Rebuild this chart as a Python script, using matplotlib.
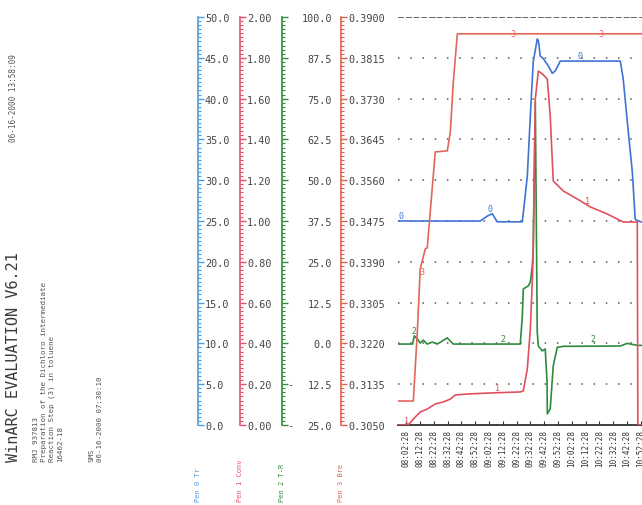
import numpy as np
import matplotlib.pyplot as plt
from matplotlib.ticker import AutoMinorLocator, FixedLocator, FixedFormatter

# time axis, minutes
time_labels = ["08:02:28", "08:12:28", "08:22:28", "08:32:28", "08:42:28", "08:52:28",
               "09:02:28", "09:12:28", "09:22:28", "09:32:28", "09:42:28", "09:52:28",
               "10:02:28", "10:12:28", "10:22:28", "10:32:28", "10:42:28", "10:52:28"]
time_ticks = np.arange(0, 171, 10)

# Pen 0 (Tr, 0..50)
t0 = [-6, 53.6, 58.7, 62.3, 65.9, 84.1, 87.7, 89.9, 92.0, 94.9, 95.7, 97.1, 99.3, 102.9,
      105.8, 108.0, 111.6, 115.2, 155.1, 157.2, 160.9, 163.8, 165.9, 169.6, 215]
v0 = [25.0, 25.0, 25.6, 25.9, 24.9, 24.9, 30.5, 37.9, 44.5, 47.3, 47.1, 45.2, 44.9, 44.0,
      43.1, 43.4, 44.6, 44.6, 44.6, 42.4, 35.9, 31.0, 25.2, 24.9, 24.9]

# Pen 1 (Conv, 0..2)
t1 = [-6, 1.4, 5.1, 10.1, 15.2, 21.0, 26.8, 31.9, 35.5, 44.2, 60.9, 82.6, 84.8, 87.7,
      89.9, 91.3, 92.0, 93.5, 95.7, 98.6, 102.2, 104.3, 106.5, 113.8, 123.9, 133.3, 145.7,
      157.2, 167.4, 167.8, 215]
v1 = [0.0, 0.0, 0.029, 0.064, 0.078, 0.103, 0.113, 0.127, 0.147, 0.152, 0.157, 0.162,
      0.167, 0.275, 0.471, 0.701, 0.863, 1.598, 1.735, 1.721, 1.696, 1.515, 1.196, 1.147,
      1.108, 1.069, 1.034, 0.995, 0.995, 0.0, 0.0]

# Pen 2 (T-R, -25..100)
t2 = [-6, 4.5, 5.9, 8.0, 10.1, 12.3, 15.2, 18.8, 22.5, 29.7, 31.9, 34.1, 82.6, 84.1, 84.8,
      88.4, 89.9, 91.3, 92.0, 93.5, 94.9, 95.7, 98.6, 100.7, 102.0, 102.2, 104.3, 106.5,
      109.4, 113.8, 155.1, 160.1, 167.4, 215]
v2 = [-0.2, -0.2, 2.3, 1.4, 0.1, 1.0, -0.2, 0.4, -0.2, 1.7, 0.7, -0.2, -0.2, 8.4, 16.7,
      17.6, 18.8, 23.7, 28.9, 74.0, 3.5, -0.8, -2.3, -1.7, -11.8, -21.6, -20.1, -6.9,
      -1.2, -0.9, -0.8, 0.0, -0.6, -0.6]

# Pen 3 (0.3050..0.3900)
t3 = [-6, 5.1, 8.0, 10.1, 13.8, 15.2, 21.0, 29.7, 31.9, 34.1, 37.0, 215]
v3 = [0.3100, 0.3100, 0.3244, 0.3375, 0.3417, 0.3419, 0.3619, 0.3621, 0.3660, 0.3765,
      0.3865, 0.3865]

scales = [
    # x pixel, lo, hi, colour, fmt, pen label
    (198, 0.0, 50.0, "#4f9be0", "%.1f", "Pen 0 Tr"),
    (240, 0.0, 2.0, "#e4506e", "%.2f", "Pen 1 Conv"),
    (282, -25.0, 100.0, "#2f8a3c", "%.1f", "Pen 2 T-R"),
    (341, 0.3050, 0.3900, "#e0604f", "%.4f", "Pen 3 Bre"),
]

W, H = 642, 506
mono = "DejaVu Sans Mono"
fig = plt.figure(figsize=(W / 100, H / 100), dpi=100)
bottom = (H - 426) / H
height = 408 / H

# header texts (rotated)
fig.text(14 / W, 1 - 462 / H, "WinARC EVALUATION V6.21", rotation=90, ha="center",
         va="bottom", family=mono, fontsize=11, color="#3a3a3a")
fig.text(14 / W, 1 - 142 / H, "06-16-2000 13:58:09", rotation=90, ha="center",
         va="bottom", family=mono, fontsize=5.5, color="#555")
info = ["RMJ 937813", "Preparation of the Dichloro intermediate",
        "Reaction Step (3) in toluene", "16462-18"]
for i, s in enumerate(info):
    fig.text((36 + 8 * i) / W, 1 - 462 / H, s, rotation=90, ha="center", va="bottom",
             family=mono, fontsize=5.4, color="#555")
fig.text(92 / W, 1 - 462 / H, "SMS", rotation=90, ha="center", va="bottom",
         family=mono, fontsize=5.4, color="#555")
fig.text(100 / W, 1 - 462 / H, "06-16-2000 07:30:10", rotation=90, ha="center",
         va="bottom", family=mono, fontsize=5.4, color="#555")

# scale axes
for xpx, lo, hi, col, fmt, pen in scales:
    sa = fig.add_axes([xpx / W - 0.01, bottom, 0.01, height])
    sa.set_ylim(lo, hi)
    for sp in ["left", "top", "bottom"]:
        sa.spines[sp].set_visible(False)
    sa.spines["right"].set_color(col)
    sa.spines["right"].set_linewidth(1.2)
    sa.set_xticks([])
    sa.yaxis.tick_right()
    vals = np.linspace(lo, hi, 11)
    sa.yaxis.set_major_locator(FixedLocator(vals))
    sa.yaxis.set_minor_locator(AutoMinorLocator(10))
    if pen.startswith("Pen 2"):
        labs = [fmt % abs(v) for v in vals]
        sa.yaxis.set_major_formatter(FixedFormatter(labs))
        sa.tick_params(axis="y", which="major", length=4, width=1, color=col, pad=32,
                       labelsize=7.3, labelcolor="#444")
        for lab in sa.get_yticklabels():
            lab.set_ha("right")
            lab.set_family(mono)
        for v in vals[vals < 0]:
            sa.annotate("-", xy=(1, v), xycoords=("axes fraction", "data"),
                        xytext=(4, 0), textcoords="offset points", va="center",
                        family=mono, fontsize=7.3, color="#444")
    else:
        sa.yaxis.set_major_formatter(FixedFormatter([fmt % v for v in vals]))
        sa.tick_params(axis="y", which="major", length=4, width=1, color=col, pad=1,
                       labelsize=7.3, labelcolor="#444")
        for lab in sa.get_yticklabels():
            lab.set_family(mono)
    sa.tick_params(axis="y", which="minor", length=2.5, width=0.8, color=col)
    sa.patch.set_visible(False)
    fig.text(xpx / W, 1 - 502 / H, pen, rotation=90, ha="center", va="bottom",
             family=mono, fontsize=5, color=col)

# main plot area
ax = fig.add_axes([398 / W, bottom, (700 - 398) / W, height])
ax.set_xlim(-6, -6 + 302 / 1.38)
ax.set_ylim(0, 50)
ax.set_yticks(np.arange(0, 51, 5))
ax.tick_params(axis="y", length=0, labelleft=False)
ax.yaxis.grid(True, linestyle=(0, (1, 7)), color="#555", lw=1.1)
ax.axhline(50, color="#666", lw=1.4, ls=(0, (3, 1)))
for sp in ["left", "top", "right"]:
    ax.spines[sp].set_visible(False)
ax.spines["bottom"].set_color("#333")
ax.spines["bottom"].set_linewidth(1.3)
ax.set_xticks(time_ticks)
ax.set_xticklabels(time_labels, rotation=90, family=mono, fontsize=5.5, color="#333")
ax.tick_params(axis="x", direction="in", length=3, color="#333", pad=3)

ax2 = ax.twinx()
ax2.set_ylim(-25, 100)
ax2.set_axis_off()
ax2.plot(t2, v2, color="#2f8a3c", lw=1.2)
ax2.text(5.5, 2.5, "2", color="#2f8a3c", fontsize=6, family=mono, ha="center", va="bottom")
ax2.text(70, 0.2, "2", color="#2f8a3c", fontsize=6, family=mono, ha="center", va="bottom")
ax2.text(135, 0.2, "2", color="#2f8a3c", fontsize=6, family=mono, ha="center", va="bottom")

ax.plot(t0, v0, color="#3f74d4", lw=1.2)
ax.text(-4, 25.1, "0", color="#3f74d4", fontsize=6, family=mono, ha="center", va="bottom")
ax.text(61, 26.0, "0", color="#3f74d4", fontsize=6, family=mono, ha="center", va="bottom")
ax.text(126, 44.7, "0", color="#3f74d4", fontsize=6, family=mono, ha="center", va="bottom")

ax1 = ax.twinx()
ax1.set_ylim(0, 2)
ax1.set_axis_off()
ax1.plot(t1, v1, color="#e05060", lw=1.2)
ax1.text(0.5, 0.0, "1", color="#e05060", fontsize=6, family=mono, ha="center", va="bottom")
ax1.text(66, 0.16, "1", color="#e05060", fontsize=6, family=mono, ha="center", va="bottom")
ax1.text(131, 1.08, "1", color="#e05060", fontsize=6, family=mono, ha="center", va="bottom")

ax3 = ax.twinx()
ax3.set_ylim(0.3050, 0.3900)
ax3.set_axis_off()
ax3.plot(t3, v3, color="#e2665a", lw=1.2)
ax3.text(11.5, 0.3370, "3", color="#e2665a", fontsize=6, family=mono, ha="center", va="center")
ax3.text(77, 0.3866, "3", color="#e2665a", fontsize=6, family=mono, ha="center", va="center")
ax3.text(141, 0.3866, "3", color="#e2665a", fontsize=6, family=mono, ha="center", va="center")

fig.savefig("out.png", dpi=100)
